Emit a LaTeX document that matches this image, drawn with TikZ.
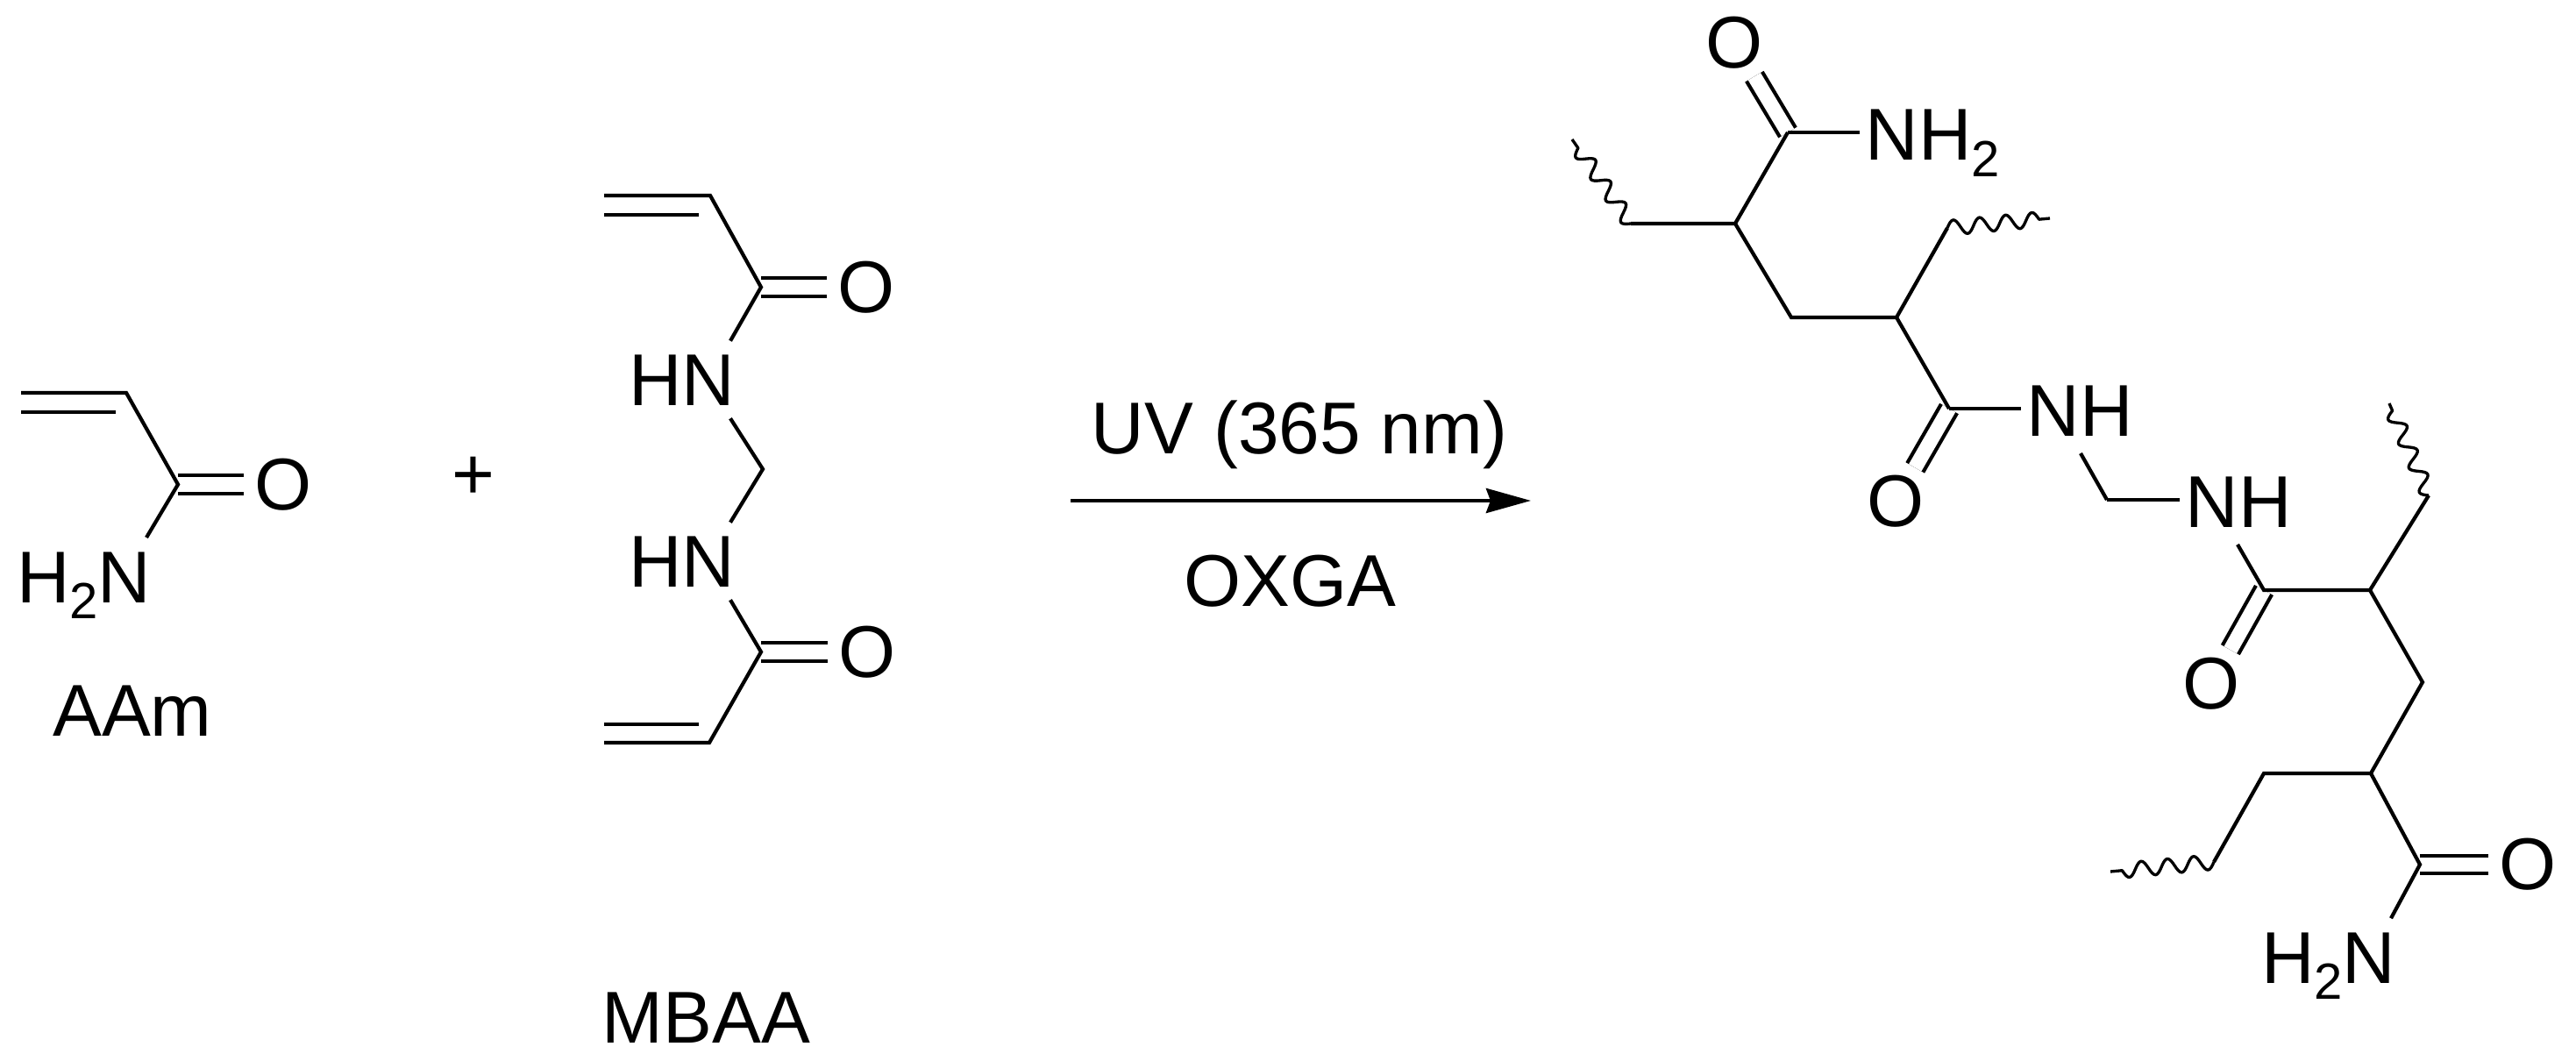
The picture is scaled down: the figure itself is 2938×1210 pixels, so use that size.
\documentclass[tikz,border=0pt]{standalone}
\usepackage{fontspec}
\setmainfont{Liberation Sans}
\usetikzlibrary{arrows.meta,decorations.pathmorphing}
\newcommand{\subtwo}{\raisebox{-.22em}{\fontsize{16.5}{16.5}\selectfont 2}}
\tikzset{
    atomlabel/.style={inner xsep=-.06cm, inner ysep=.135cm, text height=.6cm, text depth=0pt},
    atomO/.style={circle, inner sep=0pt, minimum size=.84cm},
    bond/.style={line width=1.2pt},
    dbond/.style={line width=1.2pt, double, double distance=.165cm},
    wavy/.style={line width=.95pt, line join=round, decorate, decoration={coil, aspect=0, segment length=.3cm, amplitude=.085cm}}
}
\begin{document}
\begin{tikzpicture}[x=.01cm, y=-.01cm, font=\fontsize{23.8}{28}\selectfont]
            \useasboundingbox (0,0) rectangle (2938,1210);
            \coordinate (A1) at (24,448);
            \coordinate (A2) at (144,448);
            \coordinate (A3) at (24,470);
            \coordinate (A4) at (132,470);
            \coordinate (A5) at (203,552.5);
            \node[atomO] (AO) at (323,552.5) {O};
            \node[atomlabel, anchor=base east] (AN) at (167,687.3) {H\subtwo N};
            \node[anchor=base] (AAm) at (151,840) {AAm};
            \draw[dbond] (A5)--(AO);
            \draw[bond] (A1)--(A2)--(A5)--(AN.north east);
            \draw[bond] (A3)--(A4);
            \node (plus) at (540,545) {+};
            \coordinate (B1) at (689,223);
            \coordinate (B2) at (810,223);
            \coordinate (B3) at (689,245);
            \coordinate (B4) at (797,245);
            \coordinate (B5) at (868,327.5);
            \coordinate (B6) at (870,535);
            \coordinate (B7) at (868,743.5);
            \coordinate (B8) at (809,847);
            \coordinate (B9) at (689,847);
            \coordinate (B10) at (797,826);
            \coordinate (B11) at (689,826);
            \node[atomO] (BO1) at (988,327.5) {O};
            \node[atomO] (BO2) at (989,743.5) {O};
            \node[atomlabel, anchor=base east] (BN1) at (833,463) {HN};
            \node[atomlabel, anchor=base east] (BN2) at (833,670) {HN};
            \node[anchor=base west, inner sep=0pt] (MBAA) at (686,1190) {MBAA};
            \draw[dbond] (B5)--(BO1);
            \draw[dbond] (B7)--(BO2);
            \draw[bond] (B1)--(B2)--(B5)--(BN1.north east);
            \draw[bond] (B3)--(B4);
            \draw[bond] (BN1.south east)--(B6)--(BN2.north east);
            \draw[bond] (BN2.south east)--(B7)--(B8)--(B9);
            \draw[bond] (B10)--(B11);
            \coordinate (arrL) at (1221,571);
            \coordinate (arrR) at (1746,571);
            \draw[line width=1.2pt, -{Stealth[length=.51cm, width=.28cm, inset=.05cm]}] (arrL)--(arrR);
            \node[anchor=base] (UV) at (1482,518) {UV (365 nm)};
            \node[anchor=base] (OXGA) at (1471,692) {OXGA};
            \coordinate (W1) at (1793,159);
            \coordinate (P1) at (1860,255);
            \coordinate (P2) at (1979,255);
            \coordinate (P3) at (2039,151);
            \coordinate (P4) at (2043,362);
            \coordinate (P5) at (2163,362);
            \coordinate (P6) at (2221,260);
            \coordinate (W2) at (2338,249);
            \coordinate (P7) at (2223,466);
            \coordinate (P8) at (2403,570);
            \coordinate (N1) at (2373,517);
            \coordinate (N2) at (2552,621);
            \coordinate (P9) at (2582,673);
            \coordinate (P10) at (2703,673);
            \coordinate (P11) at (2770,565);
            \coordinate (W3) at (2725,460);
            \coordinate (P12) at (2763,778);
            \coordinate (P13) at (2704,882);
            \coordinate (P14) at (2582,882);
            \coordinate (P15) at (2525,983);
            \coordinate (W4) at (2407,994);
            \coordinate (P16) at (2760,986);
            \node[atomO] (PO1) at (1978,49) {O};
            \node[atomO] (PO2) at (2162,572) {O};
            \node[atomO] (PO3) at (2522,780) {O};
            \node[atomO] (PO4) at (2883,986) {O};
            \node[atomlabel, anchor=base west] (PN1) at (2133,182.7) {NH\subtwo};
            \node[atomlabel, anchor=base west] (PN2) at (2317,497.7) {NH};
            \node[atomlabel, anchor=base west] (PN3) at (2498,601.7) {NH};
            \node[atomlabel, anchor=base east] (PN4) at (2727,1121.5) {H\subtwo N};
            \draw[dbond] (P3)--(PO1);
            \draw[dbond] (P7)--(PO2);
            \draw[dbond] (P9)--(PO3);
            \draw[dbond] (P16)--(PO4);
            \draw[bond] (P1)--(P2)--(P3);
            \draw[bond, shorten >=.12cm] (P3)--(P3 -| PN1.west);
            \draw[bond] (P2)--(P4)--(P5)--(P6);
            \draw[bond] (P5)--(P7);
            \draw[bond, shorten >=.12cm] (P7)--(P7 -| PN2.west);
            \draw[bond] (N1)--(P8);
            \draw[bond, shorten >=.12cm] (P8)--(P8 -| PN3.west);
            \draw[bond] (N2)--(P9)--(P10)--(P11);
            \draw[bond] (P10)--(P12)--(P13)--(P14)--(P15);
            \draw[bond] (P13)--(P16)--(PN4.north east);
            \draw[wavy] (P1)--(W1);
            \draw[wavy] (P6)--(W2);
            \draw[wavy] (P11)--(W3);
            \draw[wavy] (P15)--(W4);
        \end{tikzpicture}
\end{document}
